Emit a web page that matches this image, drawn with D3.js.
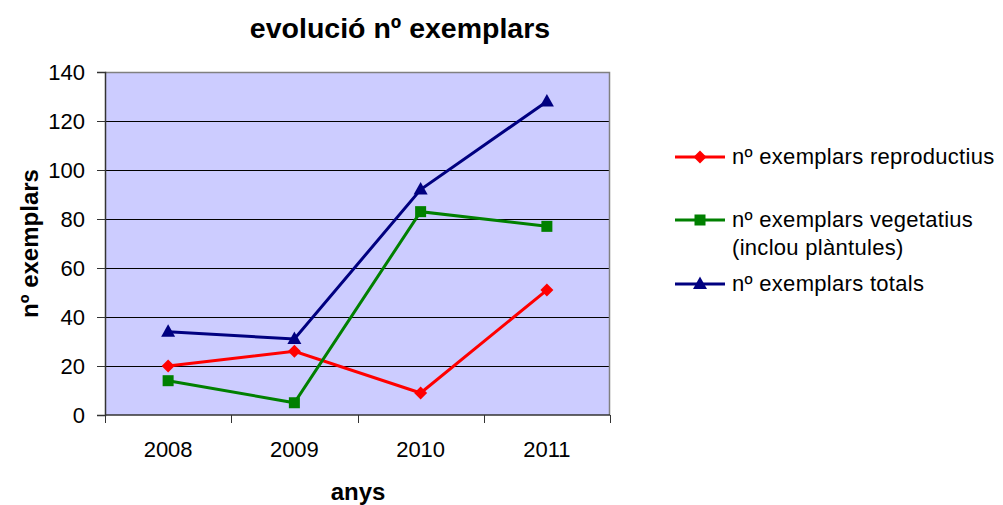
<!DOCTYPE html>
<html>
<head>
<meta charset="utf-8">
<script src="https://cdn.jsdelivr.net/npm/d3@7"></script>
<style>
  body { margin: 0; background: #fff; }
  text { font-family: Arial, "Liberation Sans", sans-serif; fill: #000; }
</style>
</head>
<body>
<script>
// dades
var anys = ['2008', '2009', '2010', '2011'];
var reproductius = [20, 26, 9, 51];
var vegetatius = [14, 5, 83, 77];
var totals = [34, 31, 92, 128];
var yTicks = [0, 20, 40, 60, 80, 100, 120, 140];

var series = [
  { name: ['nº exemplars reproductius'], values: reproductius, color: '#ff0000', shape: 'diamond' },
  { name: ['nº exemplars vegetatius', '(inclou plàntules)'], values: vegetatius, color: '#008000', shape: 'square' },
  { name: ['nº exemplars totals'], values: totals, color: '#000080', shape: 'triangle' }
];

var width = 1003, height = 505;
var plot = { left: 105, top: 72, right: 610, bottom: 415 };

var svg = d3.select('body').append('svg')
  .attr('width', width)
  .attr('height', height);

var x = d3.scaleBand().domain(anys).range([plot.left, plot.right]);
var y = d3.scaleLinear().domain([0, 140]).range([plot.bottom, plot.top]);

// fons
svg.append('rect')
  .attr('x', plot.left).attr('y', plot.top)
  .attr('width', plot.right - plot.left).attr('height', plot.bottom - plot.top)
  .style('fill', '#ccccff');

// linies de la graella
svg.selectAll('.grid')
  .data(yTicks.slice(1, -1))
  .enter()
  .append('line')
  .attr('x1', plot.left).attr('x2', plot.right)
  .attr('y1', function (d) { return Math.round(y(d)) + 0.5 }).attr('y2', function (d) { return Math.round(y(d)) + 0.5 })
  .style('stroke', '#000').style('stroke-width', 1);

// vora superior i dreta
svg.append('path')
  .attr('d', 'M' + plot.left + ',' + (plot.top + 0.5) + 'H' + (plot.right - 0.5) + 'V' + plot.bottom)
  .style('fill', 'none').style('stroke', '#808080').style('stroke-width', 1.5);

// eix y
var yAxis = svg.append('g')
  .attr('transform', 'translate(' + plot.left + ',0)')
  .call(d3.axisLeft(y).tickValues(yTicks).tickSize(8).tickPadding(12));
yAxis.selectAll('text').style('font-size', '22px').attr('dy', '0.36em');
yAxis.select('.domain').style('stroke', '#333').style('stroke-width', 1.5);
yAxis.selectAll('.tick line').style('stroke', '#333');

// eix x
var xTickPos = d3.range(anys.length + 1).map(function (i) { return plot.left + i * x.step() });
var xAxis = svg.append('g').attr('transform', 'translate(0,' + plot.bottom + ')');
xAxis.append('line')
  .attr('x1', plot.left).attr('x2', plot.right)
  .style('stroke', '#333').style('stroke-width', 1.5);
xAxis.selectAll('.tk')
  .data(xTickPos)
  .enter()
  .append('line')
  .attr('x1', function (d) { return Math.round(d) + 0.5 }).attr('x2', function (d) { return Math.round(d) + 0.5 })
  .attr('y1', 0).attr('y2', 8)
  .style('stroke', '#333').style('stroke-width', 1);
xAxis.selectAll('.lbl')
  .data(anys)
  .enter()
  .append('text')
  .attr('x', function (d) { return x(d) + x.bandwidth() / 2 })
  .attr('y', 42)
  .attr('text-anchor', 'middle')
  .style('font-size', '22px')
  .text(function (d) { return d });

// simbols
function marker(g, shape, color, cx, cy) {
  if (shape === 'diamond') {
    g.append('path').attr('d', 'M' + cx + ',' + (cy - 6.5) + 'L' + (cx + 6.5) + ',' + cy + 'L' + cx + ',' + (cy + 6.5) + 'L' + (cx - 6.5) + ',' + cy + 'Z')
      .style('fill', color);
  } else if (shape === 'square') {
    g.append('rect').attr('x', cx - 5.5).attr('y', cy - 5.5).attr('width', 11).attr('height', 11)
      .style('fill', color);
  } else {
    g.append('path').attr('d', 'M' + cx + ',' + (cy - 7.5) + 'L' + (cx + 7) + ',' + (cy + 5) + 'L' + (cx - 7) + ',' + (cy + 5) + 'Z')
      .style('fill', color);
  }
}

var line = d3.line()
  .x(function (d, i) { return x(anys[i]) + x.bandwidth() / 2 })
  .y(function (d) { return y(d) });

series.forEach(function (s) {
  var g = svg.append('g');
  g.append('path')
    .attr('d', line(s.values))
    .style('fill', 'none').style('stroke', s.color).style('stroke-width', 3);
  s.values.forEach(function (v, i) {
    marker(g, s.shape, s.color, x(anys[i]) + x.bandwidth() / 2, y(v));
  });
});

// llegenda
var legendY = [157, 220, 284];
series.forEach(function (s, i) {
  var g = svg.append('g').attr('transform', 'translate(0,' + legendY[i] + ')');
  g.append('line').attr('x1', 675).attr('x2', 725).attr('y1', 0).attr('y2', 0)
    .style('stroke', s.color).style('stroke-width', 3);
  marker(g, s.shape, s.color, 700, 0);
  s.name.forEach(function (t, j) {
    g.append('text')
      .attr('x', 732).attr('y', 7 + j * 28)
      .style('font-size', '22px').style('letter-spacing', '0.3px')
      .text(t);
  });
});

// titols
svg.append('text')
  .attr('x', 400).attr('y', 38)
  .attr('text-anchor', 'middle')
  .style('font-size', '28.5px').style('font-weight', 'bold')
  .text('evolució nº exemplars');

svg.append('text')
  .attr('x', 358).attr('y', 500)
  .attr('text-anchor', 'middle')
  .style('font-size', '24px').style('font-weight', 'bold')
  .text('anys');

svg.append('text')
  .attr('transform', 'translate(38,' + ((plot.top + plot.bottom) / 2) + ') rotate(-90)')
  .attr('text-anchor', 'middle')
  .style('font-size', '24px').style('font-weight', 'bold')
  .text('nº exemplars');
</script>
</body>
</html>
